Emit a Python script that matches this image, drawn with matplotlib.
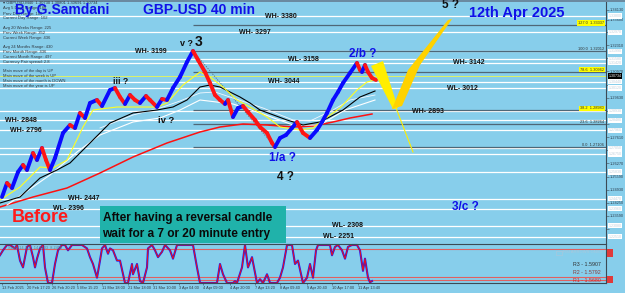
import matplotlib
matplotlib.use("Agg")
import matplotlib.pyplot as plt
from matplotlib.collections import LineCollection
from matplotlib.patches import Rectangle, Polygon

plt.rcParams['font.family'] = ['Liberation Sans', 'DejaVu Sans']

W, H = 625, 293
BG = '#87ceeb'

# price swings (bar position, price)
bars = [2, 7, 12, 18, 23, 27, 33, 37, 42, 46, 50, 55, 63, 70, 75, 80, 85, 90, 97, 102,
        110, 115, 120, 125, 130, 135, 140, 146, 150, 157, 162, 167, 173, 180, 187, 193,
        198, 205, 210, 215, 220, 225, 228, 233, 238, 243, 248, 255, 260, 267, 272, 275,
        280, 286, 292, 297, 303, 310, 317, 322, 327, 333, 338, 343, 350, 357, 360, 362,
        365, 368, 372, 376]
close = [1.24551, 1.25267, 1.25011, 1.25829, 1.26186, 1.25931, 1.26800, 1.26442, 1.27055, 1.26442,
         1.25931, 1.26544, 1.27822, 1.28230, 1.28077, 1.28844, 1.28588, 1.29355, 1.29508, 1.29201,
         1.30019, 1.30121, 1.29661, 1.29304, 1.29763, 1.29508, 1.29355, 1.29712, 1.29508, 1.29150,
         1.29559, 1.29508, 1.30121, 1.30683, 1.31450, 1.32012,
         1.31552, 1.30939, 1.30377, 1.29763, 1.29508, 1.29304, 1.29508, 1.28639, 1.29099, 1.29201,
         1.28895, 1.28486, 1.28128, 1.27822, 1.27311, 1.27106,
         1.27566, 1.27719, 1.28077, 1.28384, 1.27822, 1.27566, 1.27975, 1.28384, 1.28844, 1.29508,
         1.29917, 1.30377, 1.30888, 1.31399, 1.31041, 1.30939, 1.31296, 1.30939, 1.30632, 1.30530]
last_price = 1.30734

# moving averages
yellow_x = [0, 20, 40, 53, 67, 83, 93, 117, 133, 157, 167, 183, 200, 210, 223, 237, 250, 267, 280,
            300, 313, 323, 340, 357, 367, 375]
yellow_y = [1.24398, 1.25062, 1.26084, 1.26033, 1.26442, 1.28128, 1.28997, 1.29150, 1.29150, 1.29150,
            1.29355, 1.30274, 1.30939, 1.30683, 1.30172, 1.29508, 1.29150, 1.28639, 1.28128, 1.27975,
            1.28077, 1.28486, 1.29099, 1.30019, 1.30428, 1.30530]
black_x = [0, 20, 40, 57, 70, 93, 110, 133, 157, 173, 187, 200, 210, 220, 240, 250, 260, 287, 303,
           320, 343, 360, 375]
black_y = [1.24245, 1.24551, 1.25522, 1.25931, 1.26289, 1.27464, 1.28333, 1.28844, 1.28997, 1.29150,
           1.29508, 1.30172, 1.30274, 1.30172, 1.29661, 1.29355, 1.28997, 1.28486, 1.28230, 1.28384,
           1.28997, 1.29661, 1.29968]
white_up_x = [100, 133, 160, 180, 200, 215, 233, 263, 293, 310, 333, 350, 375]
white_up_y = [1.28077, 1.28741, 1.29099, 1.29457, 1.29866, 1.29917, 1.29610, 1.29099, 1.28486,
              1.28435, 1.28997, 1.29508, 1.29763]
white_lo_x = [7, 50, 77, 100, 133, 160, 180, 200, 233, 263, 293, 320, 345, 375]
white_lo_y = [1.24142, 1.25675, 1.26851, 1.27719, 1.28384, 1.28588, 1.28997, 1.29508, 1.29304,
              1.28793, 1.28230, 1.28230, 1.28997, 1.29508]
red_x = [0, 33, 67, 100, 133, 167, 200, 220, 243, 267, 293, 313, 333, 350, 372]
red_y = [1.24040, 1.24551, 1.25011, 1.25778, 1.26595, 1.27311, 1.27873, 1.28128, 1.28282, 1.28230,
         1.28128, 1.28179, 1.28384, 1.28588, 1.28793]

# weekly / monthly high-low levels
lvl_price = [1.3380, 1.3297, 1.3199, 1.3158, 1.3142, 1.3044, 1.3012, 1.2893, 1.2848, 1.2796,
             1.2447, 1.2396, 1.2308, 1.2251]
lvl_name = ['WH- 3380', 'WH- 3297', 'WH- 3199', 'WL- 3158', 'WH- 3142', 'WH- 3044', 'WL- 3012',
            'WH- 2893', 'WH- 2848', 'WH- 2796', 'WH- 2447', 'WL- 2396', 'WL- 2308', 'WL- 2251']
extra_lvl = [1.2705, 1.2675, 1.2583]

# fibonacci
fib_pct = [0.0, 23.6, 38.2, 78.6, 100.0, 127.0]
fib_price = [1.27106, 1.28264, 1.28980, 1.30962, 1.32012, 1.33337]
fib_hi = [38.2, 78.6, 127.0]

# projected wave
wedge_a_x = [371, 383, 398, 393]
wedge_a_y = [1.31245, 1.31501, 1.29099, 1.29048]
wedge_b_x = [392, 408, 448, 452, 420, 402]
wedge_b_y = [1.29048, 1.31041, 1.33596, 1.33647, 1.31296, 1.29201]
ext_x = [396, 413]
ext_y = [1.29099, 1.26851]

price_ticks = [1.34130, 1.33600, 1.32990, 1.32310, 1.31650, 1.30970, 1.30300, 1.29630, 1.28950,
               1.28290, 1.27610, 1.26940, 1.26270, 1.25590, 1.24930, 1.24250, 1.23590, 1.22910]

# oscillator window
osc_x = [0, 3, 7, 10, 15, 17, 20, 23, 27, 30, 33, 35, 37, 40, 43, 45, 48, 52, 55, 58,
         62, 65, 68, 72, 77, 82, 87, 90, 93, 97, 100, 102, 105, 108, 110, 113, 117, 120, 125, 128,
         132, 133, 137, 140, 143, 147, 148, 152, 155, 158, 162, 165, 170, 173, 177, 193, 197, 200, 217, 220,
         223, 227, 233, 235, 237, 242, 245, 248, 252, 257, 260, 263, 267, 270, 277, 280, 283, 287, 292, 295,
         298, 303, 307, 310, 313, 316, 318, 330, 332, 335, 338, 342, 345, 348, 352, 357, 360, 363, 365, 368,
         370, 372]
osc_v = [73, 86, 100, 100, 91, 100, 59, 41, 95, 100, 68, 41, 64, 91, 100, 41, 0, 0, 50, 86,
         100, 100, 86, 100, 100, 100, 91, 68, 50, 14, 59, 91, 100, 77, 91, 86, 59, 59, 0, 0,
         50, 23, 50, 5, 0, 41, 91, 100, 86, 68, 82, 100, 86, 64, 100, 100, 41, 0, 0, 50,
         23, 0, 0, 5, 0, 41, 100, 41, 68, 0, 10, 0, 23, 0, 0, 14, 41, 100, 100, 50,
         59, 0, 14, 50, 14, 86, 100, 100, 73, 95, 100, 86, 64, 95, 100, 100, 86, 32, 64, 14,
         2, 5]
osc_levels = [90, 16, 8]

date_x = [2, 27, 52, 77, 102, 128, 153, 179, 203, 230, 255, 280, 307, 332, 358]
date_lbl = ['13 Feb 2025', '20 Feb 17:20', '26 Feb 20:20', '5 Mar 15:20', '11 Mar 18:00',
            '21 Mar 18:00', '31 Mar 10:00', '3 Apr 04:00', '4 Apr 09:00', '4 Apr 20:00',
            '7 Apr 13:20', '8 Apr 09:40', '9 Apr 20:40', '10 Apr 17:00', '11 Apr 13:40']

info = ['\u25be GBPUSD,M40  1.30730 1.30801 1.30691 1.30734', 'Avg 5 Days Range: 188',
        'Prev Day Range: 180', 'Current Day Range: 102', 'Avg 20 Weeks Range: 225',
        'Prev Week Range: 352', 'Current Week Range: 436', 'Avg 24 Months Range: 430',
        'Prev Month Range: 436', 'Current Month Range: 497', 'Currency Pair spread: 2.8',
        'Main move of the day is UP', 'Main move of the week is UP',
        'Main move of the month is DOWN', 'Main move of the year is UP']

fig = plt.figure(figsize=(W / 100, H / 100), dpi=100, facecolor=BG)


def fx(x):
    return x / W


def fy(y):
    return 1 - y / H


def ptext(x, y, s, **kw):
    kw.setdefault('va', 'center')
    fig.text(fx(x), fy(y), s, **kw)


# ---- main chart ----
ax = fig.add_axes([0, fy(243), fx(606), 243 / H])
ax.set_facecolor(BG)
ax.set_xlim(0, 606)
ax.set_ylim(1.22201, 1.34618)
for s in ['top', 'left', 'bottom']:
    ax.spines[s].set_visible(False)
ax.spines['right'].set_color('#3c4a55')
ax.spines['right'].set_linewidth(0.8)
ax.set_xticks([])
ax.yaxis.tick_right()
boxed = lvl_price + extra_lvl + [last_price]
tick_txt = ['' if min(abs(t - b) for b in boxed) < 0.002 else f'{t:.5f}' for t in price_ticks]
ax.set_yticks(price_ticks)
ax.set_yticklabels(tick_txt, fontsize=2.8, color='#2b3b4b')
ax.tick_params(axis='y', length=2, width=0.4, pad=1, color='#3c4a55')

for p in lvl_price + extra_lvl:
    ax.axhline(p, color='white', lw=0.9, zorder=1)
for p in fib_price:
    ax.hlines(p, 193, 606, color='#4f6777', lw=0.9, zorder=1.5)
ax.axhline(last_price, color='#ffff33', lw=0.5, zorder=1.6)
ax.plot([193, 275], [fib_price[4], fib_price[0]], color='#5a6b78', lw=0.6, ls=(0, (1.5, 1.5)), zorder=2)

ax.plot(red_x, red_y, color='#ff1010', lw=1.1, zorder=3)
ax.plot(white_lo_x, white_lo_y, color='white', lw=0.8, zorder=3)
ax.plot(white_up_x, white_up_y, color='#f4f8ff', lw=0.6, zorder=3)
ax.plot(black_x, black_y, color='black', lw=0.8, zorder=3)
ax.plot(yellow_x, yellow_y, color='#ffff20', lw=0.8, zorder=3)

segs = [[(bars[i], close[i]), (bars[i + 1], close[i + 1])] for i in range(len(bars) - 1)]
cols = ['#0a0aff' if close[i + 1] >= close[i] else '#ff1515' for i in range(len(bars) - 1)]
ax.add_collection(LineCollection(segs, colors=cols, linewidths=2.8, capstyle='round', zorder=4))

ax.add_patch(Polygon(list(zip(wedge_a_x, wedge_a_y)), closed=True, fc='#ffee00', ec='none', zorder=4))
ax.add_patch(Polygon(list(zip(wedge_b_x, wedge_b_y)), closed=True, fc='#ffd200', ec='none', zorder=4))
ax.plot(ext_x, ext_y, color='#ffee00', lw=0.8, zorder=4)

# level names
lvl_at = [265, 239, 135, 288, 453, 268, 447, 412, 5, 10, 68, 53, 332, 323]
for x, p, name in zip(lvl_at, lvl_price, lvl_name):
    ax.text(x, p, name, fontsize=5, fontweight='bold', color='#111111', va='center', ha='left', zorder=6)

# fib labels
for pct, p in zip(fib_pct, fib_price):
    box = dict(fc='#ffff00', ec='none', pad=0.6) if pct in fib_hi else None
    ax.text(604, p, f'{pct:.1f}  {p:.5f}', fontsize=2.8, color='#303030', ha='right', va='bottom',
            bbox=box, zorder=6)

# axis boxes for levels
ytr = ax.get_yaxis_transform()
for p in lvl_price + extra_lvl:
    ax.text(1.004, p, f'{p:.5f}', transform=ytr, fontsize=2.6, color='#c0d0dc', ha='left', va='center',
            bbox=dict(fc='white', ec='none', pad=0.4), clip_on=False, zorder=7)
ax.text(1.004, last_price, f'{last_price:.5f}', transform=ytr, fontsize=2.6, color='white', ha='left',
        va='center', bbox=dict(fc='black', ec='none', pad=0.5), clip_on=False, zorder=8)

# info block
info_y = [3, 8.5, 14, 18.5, 28, 33, 38, 47, 52, 57, 62, 71, 76, 81, 86]
for y, s in zip(info_y, info):
    ptext(3, y, s, fontsize=3, color='#303840')

# titles and wave labels
ptext(15, 10, 'By G.Samdani', fontsize=10, fontweight='bold', color='#1010e8')
ptext(143, 10, 'GBP-USD 40 min', fontsize=10, fontweight='bold', color='#1010e8')
ptext(469, 13, '12th Apr 2025', fontsize=10.5, fontweight='bold', color='#1010e8')
ptext(442, 5, '5 ?', fontsize=8.5, fontweight='bold', color='#111111')
ptext(180, 43, 'v ?', fontsize=6.5, fontweight='bold', color='#111111')
ptext(195, 42, '3', fontsize=10, fontweight='bold', color='#111111')
ptext(113, 81, 'iii ?', fontsize=6.3, fontweight='bold', color='#111111')
ptext(158, 121, 'iv ?', fontsize=6.8, fontweight='bold', color='#111111')
ptext(349, 54, '2/b ?', fontsize=8.5, fontweight='bold', color='#1010e8')
ptext(269, 158, '1/a ?', fontsize=8.5, fontweight='bold', color='#1010e8')
ptext(277, 177, '4 ?', fontsize=8.5, fontweight='bold', color='#111111')
ptext(452, 207, '3/c ?', fontsize=8.5, fontweight='bold', color='#1010e8')
ptext(12, 218, 'Before', fontsize=13, fontweight='bold', color='#ff1a1a')

fig.add_artist(Rectangle((fx(100), fy(243)), (286 - 100) / W, (243 - 206) / H, transform=fig.transFigure,
                         fc='#20b2aa', ec='none', zorder=5))
ptext(103, 218, 'After having a reversal candle', fontsize=8.6, fontweight='bold', color='#0a0a0a', zorder=6)
ptext(102, 234, 'wait for a 7 or 20 minute entry', fontsize=8.6, fontweight='bold', color='#0a0a0a', zorder=6)

# top border
fig.add_artist(Rectangle((0, fy(1.5)), 1, 1.5 / H, transform=fig.transFigure, fc='#6a8aa0', ec='none'))

# ---- oscillator window ----
ax2 = fig.add_axes([0, fy(283), fx(606), (283 - 244) / H])
ax2.set_facecolor(BG)
ax2.set_xlim(0, 606)
ax2.set_ylim(0, 102.6)
ax2.spines['left'].set_visible(False)
for s in ['top', 'bottom', 'right']:
    ax2.spines[s].set_color('#3c4a55')
    ax2.spines[s].set_linewidth(0.8)
ax2.set_yticks([])
for lv in osc_levels:
    ax2.axhline(lv, color='#e06060', lw=0.8)
ax2.plot(osc_x, osc_v, color='#1a1aff', lw=1.5, clip_on=False)
ax2.plot(osc_x, osc_v, color='#ee1111', lw=0.7, clip_on=False)
ax2.set_xticks(date_x)
ax2.set_xticklabels(date_lbl, fontsize=2.8, color='#303840')
for lbl in ax2.get_xticklabels():
    lbl.set_ha('left')
ax2.tick_params(axis='x', length=1.5, width=0.4, pad=1, color='#3c4a55')

ptext(8, 248, 'Stoch(14,3,3)  14.5103  8.2458', fontsize=2.8, color='#5d7d90')
ptext(563, 252, 'RSI ARROWS ON/OFF', fontsize=3, color='#a8c8dc')
fig.add_artist(Rectangle((fx(556), fy(255)), 6 / W, 4 / H, transform=fig.transFigure,
                         fc='none', ec='#a8c8dc', lw=0.5))
ptext(573, 264, 'R3 - 1.5907', fontsize=3.8, color='#303030')
ptext(573, 273, 'R2 - 1.5792', fontsize=3.8, color='#8b3a3a')
ptext(573, 281, 'R1 - 1.5680', fontsize=3.8, color='#d02828')
for y0, y1 in [(249, 257), (276, 283)]:
    fig.add_artist(Rectangle((fx(607), fy(y1)), 6 / W, (y1 - y0) / H, transform=fig.transFigure,
                             fc='#e03a3a', ec='none'))

fig.savefig('out.png', dpi=100, facecolor=BG)
